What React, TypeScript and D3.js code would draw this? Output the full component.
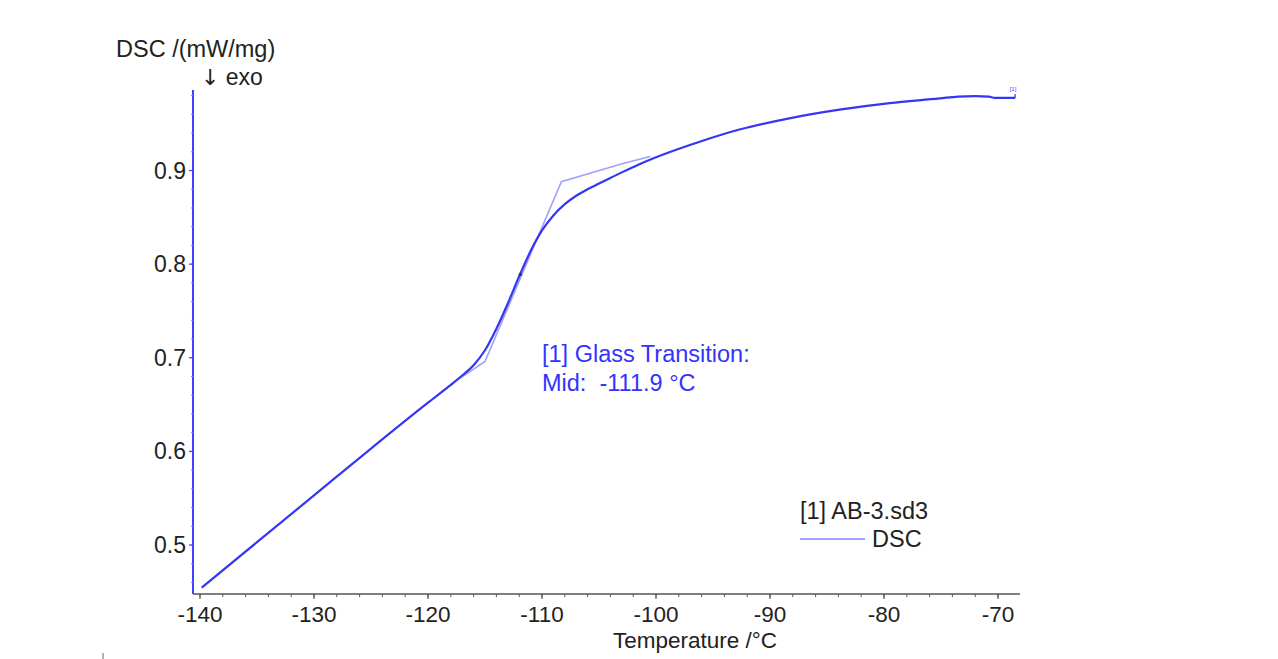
import React from "react";
import * as d3 from "d3";

const temps = [-139.85, -135, -130, -125, -120, -118, -117, -116, -115, -114, -113, -112, -111, -110, -109, -108, -107, -106, -105, -104, -103, -101.5, -99.6, -96.1, -92.6, -88.2, -83.9, -79.5, -75.1, -73.5, -72.0, -70.8, -70.3, -68.5];
const dscValues = [0.4545, 0.503, 0.553, 0.603, 0.652, 0.671, 0.681, 0.692, 0.708, 0.731, 0.758, 0.787, 0.814, 0.836, 0.852, 0.864, 0.873, 0.880, 0.886, 0.892, 0.898, 0.9065, 0.916, 0.931, 0.944, 0.956, 0.965, 0.972, 0.977, 0.979, 0.9795, 0.979, 0.9775, 0.9775];

// tangent construction (evaluation lines)
const tangentT = [-118.0, -115.0, -108.3, -102.9, -100.5];
const tangentV = [0.6715, 0.696, 0.888, 0.9075, 0.915];

const xTicks = [-140, -130, -120, -110, -100, -90, -80, -70];
const yTicks = [0.5, 0.6, 0.7, 0.8, 0.9];

const xDomain: [number, number] = [-140, -70];
const yDomain: [number, number] = [0.5, 0.9];

export default function App() {
  const x = d3.scaleLinear().domain(xDomain).range([200, 998]);
  const y = d3.scaleLinear().domain(yDomain).range([545, 170.5]);
  const axisLeft = 193;
  const axisBottom = 594;
  const axisRight = 1020;
  const axisTop = 90;

  const line = d3
    .line<number>()
    .x((_, i) => x(temps[i]))
    .y((d) => y(d))
    .curve(d3.curveMonotoneX);
  const tline = d3
    .line<number>()
    .x((_, i) => x(tangentT[i]))
    .y((d) => y(d));

  const minorX = d3.range(-140, -68, 2);
  const minorY = d3.range(0.46, 0.99, 0.02);
  const font = "'Liberation Sans', Arial, sans-serif";
  const blue = "#3535f5";
  const lastT = temps[temps.length - 1];
  const lastV = dscValues[dscValues.length - 1];

  return (
    <svg
      width={1278}
      height={659}
      style={{ position: "absolute", left: 0, top: 0, background: "#fff" }}
      fontFamily={font}
    >
      {/* x axis */}
      <line x1={axisLeft} x2={axisRight} y1={axisBottom} y2={axisBottom} stroke="#555" strokeWidth={1.5} />
      {minorX.map((t) => (
        <line key={"mx" + t} x1={x(t)} x2={x(t)} y1={axisBottom} y2={axisBottom + 3} stroke="#555" strokeWidth={1} />
      ))}
      {xTicks.map((t) => (
        <g key={"xt" + t}>
          <line x1={x(t)} x2={x(t)} y1={axisBottom} y2={axisBottom + 5} stroke="#555" strokeWidth={1.2} />
          <text x={x(t)} y={622} textAnchor="middle" fontSize={22.5} fill="#222">
            {t}
          </text>
        </g>
      ))}
      <text x={695} y={648} textAnchor="middle" fontSize={22.5} fill="#222">
        Temperature /°C
      </text>

      {/* y axis */}
      <line x1={axisLeft} x2={axisLeft} y1={axisTop} y2={axisBottom} stroke="#4040ff" strokeWidth={2} />
      {minorY.map((v) => (
        <line key={"my" + v.toFixed(2)} x1={axisLeft - 2} x2={axisLeft} y1={y(v)} y2={y(v)} stroke="#8080ff" strokeWidth={1} />
      ))}
      {yTicks.map((v) => (
        <g key={"yt" + v}>
          <line x1={axisLeft - 4} x2={axisLeft} y1={y(v)} y2={y(v)} stroke="#4040ff" strokeWidth={1.2} />
          <text x={186} y={y(v) + 8} textAnchor="end" fontSize={23} fill="#222">
            {v.toFixed(1)}
          </text>
        </g>
      ))}
      <text x={116} y={57} fontSize={23.5} fill="#222">
        DSC /(mW/mg)
      </text>
      <text x={201} y={85} fontSize={23} fill="#222">
        <tspan fontFamily="'DejaVu Sans', sans-serif" fontSize={22}>↓</tspan>
        <tspan> exo</tspan>
      </text>

      {/* tangent construction */}
      <path d={tline(tangentV) || ""} fill="none" stroke="#a0a0ff" strokeWidth={1.6} />

      {/* DSC curve */}
      <path d={line(dscValues) || ""} fill="none" stroke={blue} strokeWidth={2.2} />
      <line x1={x(lastT)} x2={x(lastT)} y1={y(lastV)} y2={y(lastV) - 4} stroke={blue} strokeWidth={1.2} />
      <text x={1013} y={91} fontSize={6} fill="#4040ff" textAnchor="middle">
        [1]
      </text>

      {/* midpoint marker */}
      <circle cx={x(-111.9)} cy={y(0.789)} r={1.6} fill="#333" />

      {/* annotation */}
      <text x={542} y={362} fontSize={23.5} fill="#3333ff">
        [1] Glass Transition:
      </text>
      <text x={542} y={391} fontSize={23.5} fill="#3333ff" style={{ whiteSpace: "pre" }}>
        {"Mid:  -111.9 °C"}
      </text>

      {/* legend */}
      <text x={800} y={519} fontSize={23.5} fill="#222">
        [1] AB-3.sd3
      </text>
      <line x1={800} x2={865} y1={539} y2={539} stroke="#a0a0ff" strokeWidth={1.8} />
      <text x={872} y={547} fontSize={23.5} fill="#222">
        DSC
      </text>

      <line x1={103} x2={103} y1={653} y2={659} stroke="#999" strokeWidth={1.5} />
    </svg>
  );
}
